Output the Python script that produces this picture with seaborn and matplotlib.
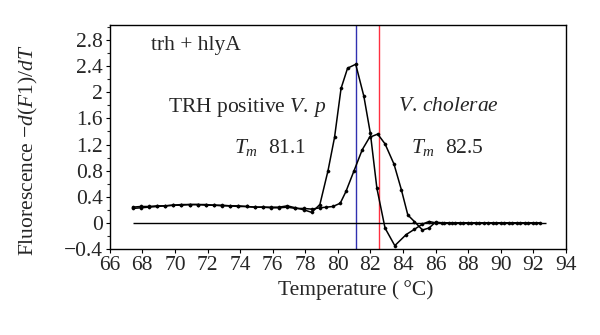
import numpy as np
import pandas as pd
import matplotlib
matplotlib.use("Agg")
import matplotlib.pyplot as plt
import seaborn as sns
from matplotlib.ticker import MultipleLocator

# --- data ---
temp_vp = [67.4, 67.9, 68.4, 68.9, 69.4, 69.9, 70.4, 70.9, 71.4, 71.9, 72.4, 72.9,
           73.4, 73.9, 74.4, 74.9, 75.4, 75.9, 76.4, 76.9, 77.4, 77.9, 78.4, 78.9,
           79.4, 79.8, 80.2, 80.6, 81.1, 81.6, 82.0, 82.4, 82.9, 83.5, 84.2, 84.7,
           85.2, 85.6, 86.0, 86.5, 87.0, 87.5, 88.0, 88.5, 89.0, 89.5, 90.0, 90.5,
           91.0, 91.5, 92.0, 92.4]
val_vp = [0.24, 0.25, 0.25, 0.26, 0.26, 0.27, 0.28, 0.28, 0.28, 0.28, 0.27, 0.27,
          0.26, 0.26, 0.25, 0.24, 0.24, 0.24, 0.24, 0.26, 0.23, 0.20, 0.16, 0.28,
          0.80, 1.31, 2.06, 2.37, 2.43, 1.94, 1.37, 0.53, -0.08, -0.35, -0.18, -0.10,
          -0.02, 0.02, 0.00, 0.00, 0.00, 0.00, 0.00, 0.00, 0.00, 0.00, 0.00, 0.00,
          0.00, 0.00, 0.00, 0.00]

temp_vc = [67.4, 67.9, 68.4, 68.9, 69.4, 69.9, 70.4, 70.9, 71.4, 71.9, 72.4, 72.9,
           73.4, 73.9, 74.4, 74.9, 75.4, 75.9, 76.4, 76.9, 77.4, 77.9, 78.4, 78.9,
           79.3, 79.7, 80.15, 80.5, 81.0, 81.5, 81.95, 82.45, 82.9, 83.45, 83.9, 84.3,
           84.7, 85.2, 85.6, 86.0, 86.4, 86.8, 87.2, 87.7, 88.2, 88.7, 89.2, 89.7,
           90.2, 90.7, 91.2, 91.7, 92.2]
val_vc = [0.22, 0.23, 0.24, 0.25, 0.26, 0.27, 0.27, 0.28, 0.28, 0.27, 0.27, 0.26,
          0.26, 0.25, 0.25, 0.24, 0.24, 0.23, 0.23, 0.24, 0.22, 0.22, 0.21, 0.23,
          0.24, 0.25, 0.30, 0.48, 0.80, 1.12, 1.31, 1.36, 1.21, 0.90, 0.51, 0.12,
          0.02, -0.11, -0.08, 0.01, 0.00, 0.00, 0.00, 0.00, 0.00, 0.00, 0.00, 0.00,
          0.00, 0.00, 0.00, 0.00, 0.00]

tm_vp = 81.1
tm_vc = 82.5
x_ticks = [66, 68, 70, 72, 74, 76, 78, 80, 82, 84, 86, 88, 90, 92, 94]
y_ticks = [-0.4, 0, 0.4, 0.8, 1.2, 1.6, 2, 2.4, 2.8]
y_tick_labels = ["\u22120.4", "0", "0.4", "0.8", "1.2", "1.6", "2", "2.4", "2.8"]

sns.set_style("ticks")
serif = "Liberation Serif"
plt.rcParams["font.family"] = [serif, "DejaVu Serif"]
plt.rcParams["mathtext.fontset"] = "custom"
plt.rcParams["mathtext.rm"] = serif
plt.rcParams["mathtext.it"] = serif + ":italic"
plt.rcParams["mathtext.default"] = "it"

fig = plt.figure(figsize=(6.0, 3.35), dpi=100)
ax = fig.add_axes([0.183, 0.257, 0.760, 0.668])

df_vp = pd.DataFrame({"T": temp_vp, "v": val_vp})
df_vc = pd.DataFrame({"T": temp_vc, "v": val_vc})

ax.axvline(tm_vp, color="#3030b0", lw=1.0, zorder=1)
ax.axvline(tm_vc, color="#ff3040", lw=1.0, zorder=1)
ax.hlines(0, min(temp_vp), 92.8, color="black", lw=1.0, zorder=2)

for d in (df_vc, df_vp):
    sns.lineplot(data=d, x="T", y="v", ax=ax, color="black", lw=1.1,
                 marker="o", markersize=2.3, markeredgewidth=0.3,
                 markeredgecolor="black", sort=False, zorder=3)

fs = 15.5
ax.set_xlim(66, 94)
ax.set_ylim(-0.4, 3.03)
ax.set_xticks(x_ticks)
ax.set_xticklabels([str(t) for t in x_ticks])
ax.set_yticks(y_ticks)
ax.set_yticklabels(y_tick_labels)
ax.yaxis.set_minor_locator(MultipleLocator(0.2))
ax.tick_params(axis="both", which="major", labelsize=fs, length=3, width=0.8,
               direction="out", color="black", pad=2)
ax.tick_params(axis="y", which="minor", length=2.5, width=0.8, direction="out")
for s in ax.spines.values():
    s.set_visible(True)
    s.set_color("black")
    s.set_linewidth(1.0)

ax.set_xlabel("Temperature (\u2009\u00b0C)", fontsize=fs)
ax.xaxis.set_label_coords(0.54, -0.14)
ax.set_ylabel("Fluorescence $-d\\mathrm{(}F\\mathrm{1)/}dT$", fontsize=fs)
ax.yaxis.set_label_coords(-0.153, 0.44)

ax.text(68.5, 2.72, "trh + hlyA", fontsize=fs, va="center", ha="left")
ax.text(69.6, 1.76, "TRH positive $V.\\,p$", fontsize=fs, va="center", ha="left")
ax.text(73.6, 1.15, "$T_m$  81.1", fontsize=fs, va="center", ha="left")
ax.text(83.7, 1.78, "$V.\\,cholerae$", fontsize=fs, va="center", ha="left")
ax.text(84.5, 1.15, "$T_m$  82.5", fontsize=fs, va="center", ha="left")

fig.savefig("out.png", dpi=100)
